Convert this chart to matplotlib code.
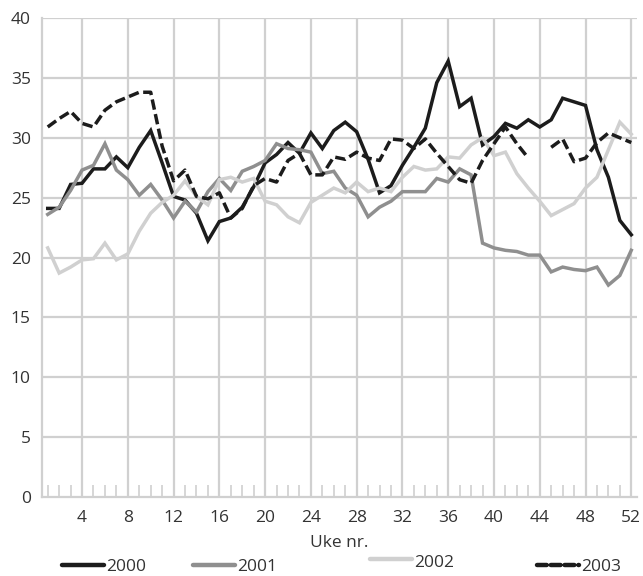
import numpy as np
import matplotlib
matplotlib.use("Agg")
import matplotlib.pyplot as plt
from matplotlib.lines import Line2D

plt.rcParams["font.family"] = ["Open Sans", "DejaVu Sans"]

# ── Data (weekly values, week 1..52) ─────────────────────────────────
weeks = np.arange(1, 53)

y2000 = [24.1, 24.1, 26.1, 26.2, 27.4, 27.4, 28.4, 27.5, 29.2, 30.6,
         27.9, 25.1, 24.8, 23.7, 21.4, 23.0, 23.3, 24.2, 25.9, 27.9,
         28.6, 29.6, 28.7, 30.4, 29.1, 30.6, 31.3, 30.5, 28.2, 25.4,
         26.0, 27.7, 29.2, 30.8, 34.6, 36.4, 32.6, 33.3, 29.4, 30.1,
         31.2, 30.8, 31.5, 30.9, 31.5, 33.3, 33.0, 32.7, 29.0, 26.7,
         23.1, 21.9]

y2001 = [23.6, 24.2, 25.6, 27.3, 27.7, 29.5, 27.3, 26.5, 25.2, 26.1,
         24.8, 23.3, 24.7, 23.8, 25.5, 26.6, 25.6, 27.2, 27.6, 28.1,
         29.5, 29.1, 29.0, 28.8, 27.0, 27.2, 25.8, 25.2, 23.4, 24.2,
         24.7, 25.5, 25.5, 25.5, 26.6, 26.3, 27.4, 26.9, 21.2, 20.8,
         20.6, 20.5, 20.2, 20.2, 18.8, 19.2, 19.0, 18.9, 19.2, 17.7,
         18.5, 20.6]

y2002 = [20.8, 18.7, 19.2, 19.8, 19.9, 21.2, 19.8, 20.3, 22.2, 23.7,
         24.6, 25.2, 26.4, 25.1, 24.4, 26.5, 26.7, 26.3, 26.6, 24.7,
         24.4, 23.4, 22.9, 24.6, 25.2, 25.8, 25.4, 26.3, 25.5, 25.8,
         25.5, 26.7, 27.6, 27.3, 27.4, 28.4, 28.3, 29.4, 30.0, 28.5,
         28.8, 27.0, 25.8, 24.7, 23.5, 24.0, 24.5, 25.8, 26.7, 29.0,
         31.3, 30.3]

y2003 = [30.9, 31.6, 32.2, 31.2, 30.9, 32.3, 33.0, 33.4, 33.8, 33.8,
         29.3, 26.4, 27.3, 25.1, 24.9, 25.4, 23.3, 24.1, 26.0, 26.6,
         26.3, 28.1, 28.7, 26.9, 26.9, 28.4, 28.2, 28.8, 28.3, 28.1,
         29.9, 29.8, 29.1, 29.9, 28.7, 27.6, 26.5, 26.2, 28.1, 29.5,
         30.9, 29.5, 28.3, np.nan, 29.2, 29.9, 28.0, 28.3, 29.6, 30.4,
         30.0, 29.6]

x_ticks = list(range(4, 53, 4))
y_ticks = list(range(0, 41, 5))

series = [
    ("2000", y2000, "#1c1c1c", "-"),
    ("2001", y2001, "#8f8f8f", "-"),
    ("2002", y2002, "#d0d0d0", "-"),
    ("2003", y2003, "#1c1c1c", "--"),
]

GRID = "#d0d0d0"
TEXT = "#333333"

fig = plt.figure(figsize=(6.43, 5.76), dpi=100)
ax = fig.add_axes([42 / 643, 1 - 497 / 576, 595 / 643, 479 / 576])

ax.set_xlim(0.5, 52.5)
ax.set_ylim(0, 40)

# grid
for x in x_ticks:
    ax.axvline(x, color=GRID, lw=1.6, zorder=1)
for y in y_ticks[1:]:
    ax.axhline(y, color=GRID, lw=1.6, zorder=1)

for s in ["top", "right"]:
    ax.spines[s].set_visible(False)
for s in ["left", "bottom"]:
    ax.spines[s].set_color(GRID)
    ax.spines[s].set_linewidth(1.6)
    ax.spines[s].set_zorder(1)

ax.set_xticks(x_ticks)
ax.set_xticks(weeks, minor=True)
ax.set_yticks(y_ticks)
ax.tick_params(axis="x", which="major", length=0, pad=9, labelsize=12.5,
               labelcolor=TEXT)
ax.tick_params(axis="x", which="minor", direction="in", length=8.5,
               width=1.2, color=GRID)
ax.tick_params(axis="y", length=0, pad=8, labelsize=12.5, labelcolor=TEXT)
ax.set_xlabel("Uke nr.", fontsize=12.5, color=TEXT, labelpad=7)

for name, vals, color, ls in series:
    line, = ax.plot(weeks, vals, color=color, lw=2.5, ls=ls, zorder=3,
                    solid_joinstyle="miter")
    if ls == "--":
        line.set_dashes((3.0, 1.3))

# ── Legend (hand placed) ─────────────────────────────────────────────
def fx(px):
    return px / 643


def fy(py):
    return 1 - py / 576


legend_items = [
    ("2000", "#1c1c1c", "-", 62, 565, 567),
    ("2001", "#8f8f8f", "-", 193, 565, 567),
    ("2002", "#d0d0d0", "-", 370, 559, 563),
    ("2003", "#1c1c1c", "--", 537, 565, 567),
]
for name, color, ls, x0, ly, ty in legend_items:
    ln = Line2D([fx(x0), fx(x0 + 42)], [fy(ly), fy(ly)], color=color,
                lw=3.2, transform=fig.transFigure)
    if ls == "--":
        ln.set_dashes((2.2, 0.9))
        ln.set_dash_capstyle("round")
    else:
        ln.set_solid_capstyle("round")
    fig.add_artist(ln)
    fig.text(fx(x0 + 44), fy(ty), name, fontsize=12.5, color=TEXT,
             ha="left", va="center")

fig.savefig("out.png", dpi=100)
